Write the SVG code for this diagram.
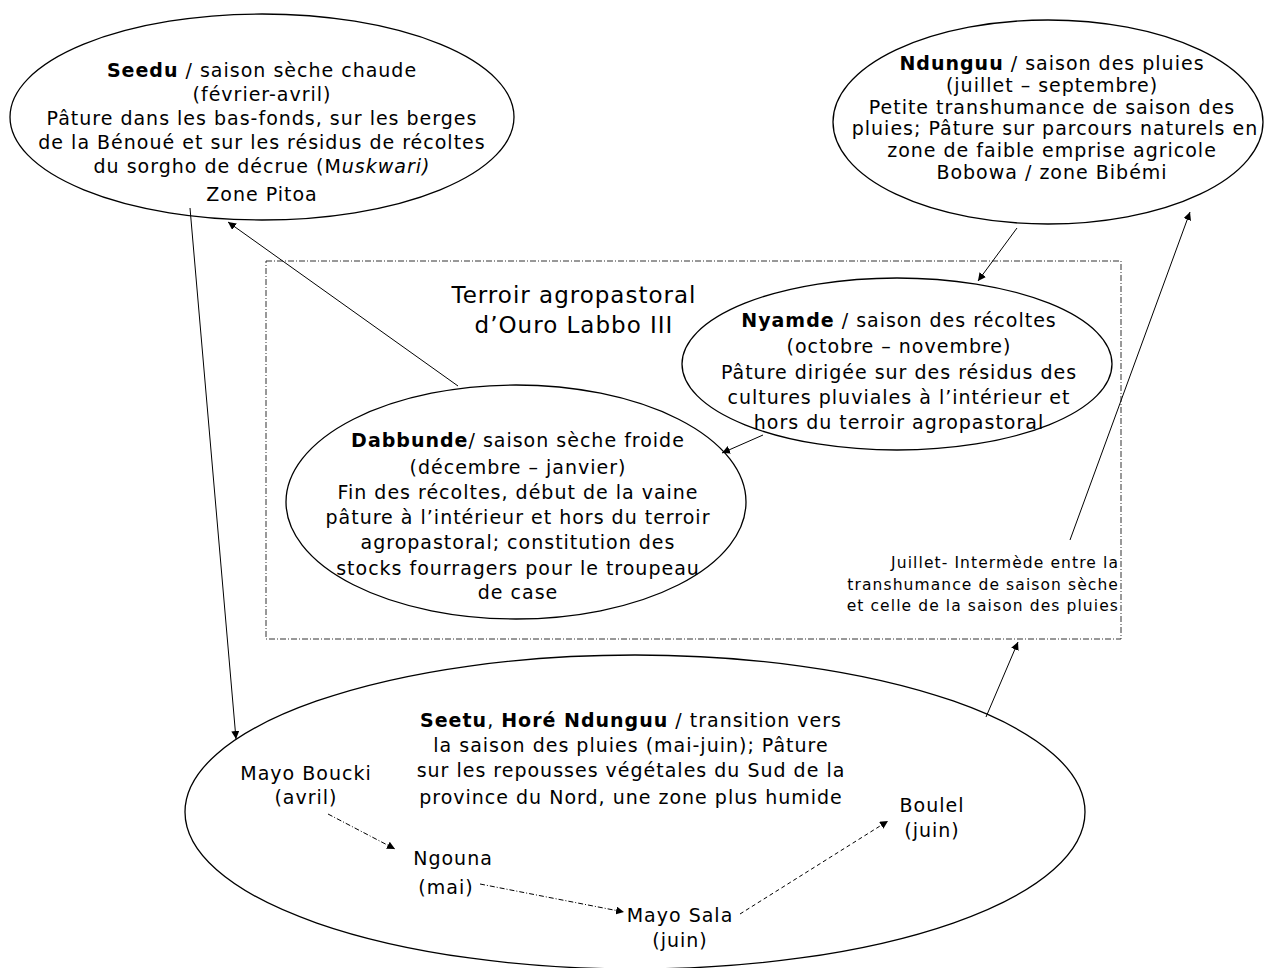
<svg xmlns="http://www.w3.org/2000/svg" width="1267" height="968" viewBox="0 0 1267 968">
<style>
.n{fill:#fff;stroke:#000;stroke-width:1.3}
text{font-family:"DejaVu Sans","Liberation Sans",sans-serif;font-size:19px;letter-spacing:1px;fill:#000;text-anchor:middle}
.b{font-weight:bold}
.sm{font-size:15.5px;letter-spacing:1.1px;text-anchor:end}
.big{font-size:23px;letter-spacing:1px}
.c{fill:none;stroke:#000;stroke-width:1}
</style>
<defs>
<marker id="a" viewBox="0 0 10 10" refX="10" refY="5" markerWidth="8" markerHeight="8" markerUnits="userSpaceOnUse" orient="auto">
<path d="M0,0 L10,5 L0,10 z" fill="#000"/>
</marker>
</defs>
<rect x="266" y="261" width="855" height="378" fill="none" stroke="#333" stroke-width="1" stroke-dasharray="6 2 1 2"/>
<text class="big" x="574" y="303">Terroir agropastoral</text>
<text class="big" x="574" y="333">d’Ouro Labbo III</text>

<g id="seedu">
<ellipse class="n" cx="262" cy="117" rx="252" ry="103"/>
<text x="262" y="77"><tspan class="b">Seedu</tspan> / saison sèche chaude</text>
<text x="262" y="101">(février-avril)</text>
<text x="262" y="125">Pâture dans les bas-fonds, sur les berges</text>
<text x="262" y="149">de la Bénoué et sur les résidus de récoltes</text>
<text x="262" y="173">du sorgho de décrue (M<tspan font-style="italic">uskwari)</tspan></text>
<text x="262" y="201">Zone Pitoa</text>
</g>

<g id="ndunguu">
<ellipse class="n" cx="1048" cy="122" rx="215" ry="102"/>
<text x="1052" y="70"><tspan class="b">Ndunguu</tspan> / saison des pluies</text>
<text x="1052" y="92">(juillet – septembre)</text>
<text x="1052" y="114">Petite transhumance de saison des</text>
<text x="1055" y="135">pluies; Pâture sur parcours naturels en</text>
<text x="1052" y="157">zone de faible emprise agricole</text>
<text x="1052" y="179">Bobowa / zone Bibémi</text>
</g>

<g id="nyamde">
<ellipse class="n" cx="897" cy="364" rx="215" ry="86"/>
<text x="899" y="327"><tspan class="b">Nyamde</tspan> / saison des récoltes</text>
<text x="899" y="353">(octobre – novembre)</text>
<text x="899" y="379">Pâture dirigée sur des résidus des</text>
<text x="899" y="404">cultures pluviales à l’intérieur et</text>
<text x="899" y="429">hors du terroir agropastoral</text>
</g>

<g id="dabbunde">
<ellipse class="n" cx="516" cy="502" rx="230" ry="117"/>
<text x="518" y="447"><tspan class="b">Dabbunde</tspan>/ saison sèche froide</text>
<text x="518" y="474">(décembre – janvier)</text>
<text x="518" y="499">Fin des récoltes, début de la vaine</text>
<text x="518" y="524">pâture à l’intérieur et hors du terroir</text>
<text x="518" y="549">agropastoral; constitution des</text>
<text x="518" y="575">stocks fourragers pour le troupeau</text>
<text x="518" y="599">de case</text>
</g>

<g id="juillet">
<text class="sm" x="1119" y="568">Juillet- Intermède entre la</text>
<text class="sm" x="1119" y="590">transhumance de saison sèche</text>
<text class="sm" x="1119" y="611">et celle de la saison des pluies</text>
</g>

<g id="seetu">
<ellipse class="n" cx="635" cy="812" rx="450" ry="157"/>
<text x="631" y="727"><tspan class="b">Seetu</tspan>, <tspan class="b">Horé Ndunguu</tspan> / transition vers</text>
<text x="631" y="752">la saison des pluies (mai-juin);  Pâture</text>
<text x="631" y="777">sur les repousses végétales du Sud de la</text>
<text x="631" y="804">province du Nord, une zone plus humide</text>
</g>

<g id="mayoboucki">
<text x="306" y="780">Mayo Boucki</text>
<text x="306" y="804">(avril)</text>
</g>
<g id="ngouna">
<text x="453" y="865">Ngouna</text>
<text x="446" y="894">(mai)</text>
</g>
<g id="mayosala">
<text x="680" y="922">Mayo Sala</text>
<text x="680" y="947">(juin)</text>
</g>
<g id="boulel">
<text x="932" y="812">Boulel</text>
<text x="932" y="837">(juin)</text>
</g>

<g id="connectors">
<line class="c" x1="190" y1="208" x2="236" y2="739" marker-end="url(#a)"/>
<line class="c" x1="458" y1="386" x2="228" y2="222" marker-end="url(#a)"/>
<line class="c" x1="1017" y1="228" x2="978" y2="281" marker-end="url(#a)"/>
<line class="c" x1="763" y1="435" x2="722" y2="453" marker-end="url(#a)"/>
<line class="c" x1="986" y1="717" x2="1018" y2="642" marker-end="url(#a)"/>
<line class="c" x1="1070" y1="540" x2="1190" y2="212" marker-end="url(#a)"/>
<line class="c" x1="328" y1="814" x2="395" y2="849" stroke-dasharray="5 2 1 2" marker-end="url(#a)"/>
<line class="c" x1="480" y1="884" x2="624" y2="912" stroke-dasharray="5 2 1 2" marker-end="url(#a)"/>
<line class="c" x1="740" y1="914" x2="888" y2="821" stroke-dasharray="4 3" marker-end="url(#a)"/>
</g>
</svg>
